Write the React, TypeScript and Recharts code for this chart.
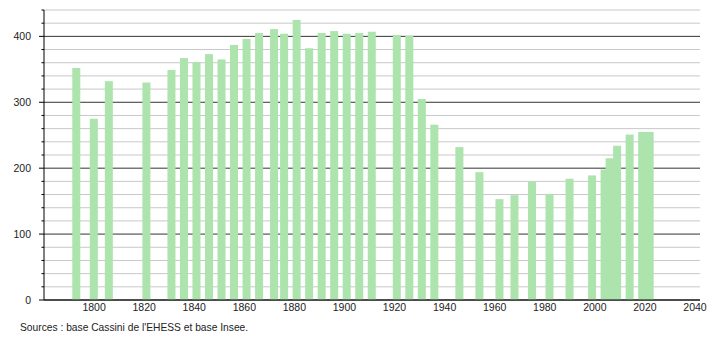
import React from 'react';
import { BarChart, Bar, XAxis, YAxis, CartesianGrid } from 'recharts';

const years = [1793, 1800, 1806, 1821, 1831, 1836, 1841, 1846, 1851, 1856, 1861, 1866, 1872, 1876, 1881, 1886, 1891, 1896, 1901, 1906, 1911, 1921, 1926, 1931, 1936, 1946, 1954, 1962, 1968, 1975, 1982, 1990, 1999, 2004, 2006, 2009, 2014, 2019, 2022];
const population = [352, 275, 332, 330, 349, 367, 361, 373, 365, 387, 396, 405, 411, 404, 425, 382, 405, 408, 404, 405, 407, 402, 401, 305, 266, 232, 194, 153, 159, 179, 161, 184, 189, 198, 215, 234, 251, 255, 255];
const xTicks = [1800, 1820, 1840, 1860, 1880, 1900, 1920, 1940, 1960, 1980, 2000, 2020, 2040];
const yTicks = [0, 20, 40, 60, 80, 100, 120, 140, 160, 180, 200, 220, 240, 260, 280, 300, 320, 340, 360, 380, 400, 420, 440];
const yLabelStep = 100;
const sourceText = "Sources : base Cassini de l'EHESS et base Insee.";

const data = years.map((year, i) => ({ year, pop: population[i] }));

const FONT = '"Liberation Sans", Arial, sans-serif';
const BAR_W = 8;
const BAR_COLOR = '#ade3ad';

const BarShape = (props: any) => {
  const { x, y, width, height, fill } = props;
  if (height == null || isNaN(height)) return null;
  const cx = x + width / 2;
  return <rect x={cx - BAR_W / 2} y={y} width={BAR_W} height={height} fill={fill} />;
};

const YTick = (props: any) => {
  const { x, y, payload } = props;
  const v = payload.value;
  const major = v % yLabelStep === 0;
  return (
    <g>
      <line x1={x - (major ? 5 : 2.5)} y1={y} x2={x} y2={y} stroke="#000" strokeWidth={1} />
      {major && (
        <text x={x - 13} y={y} dy="0.35em" textAnchor="end" fontSize={10.5} fontFamily={FONT} fill="#222">
          {v}
        </text>
      )}
    </g>
  );
};

const gridLine = (props: any) => {
  const { x1, y1, x2, y2, index, key } = props;
  const v = yTicks[index];
  const major = v % yLabelStep === 0;
  return (
    <line key={key} x1={x1} y1={y1} x2={x2} y2={y2} stroke={major ? '#333' : '#c8c8c8'} strokeWidth={1} />
  );
};

export default function App() {
  return (
    <div style={{ position: 'absolute', left: 0, top: 0, width: 710, height: 340, background: '#fff' }}>
      <BarChart
        width={710}
        height={340}
        data={data}
        margin={{ top: 10, right: 10, bottom: 20, left: 0 }}
        barSize={BAR_W}
      >
        <CartesianGrid vertical={false} horizontal={gridLine} />
        <XAxis
          dataKey="year"
          type="number"
          domain={[1780, 2042]}
          allowDataOverflow
          ticks={xTicks}
          interval={0}
          height={20}
          tickLine={false}
          tickSize={0}
          tickMargin={4}
          axisLine={{ stroke: '#000' }}
          tick={{ fontSize: 10.5, fontFamily: FONT, fill: '#222' }}
        />
        <YAxis
          type="number"
          domain={[0, 440]}
          ticks={yTicks}
          interval={0}
          width={44}
          tickLine={false}
          tickSize={0}
          tickMargin={0}
          axisLine={{ stroke: '#000' }}
          tick={<YTick />}
        />
        <Bar dataKey="pop" fill={BAR_COLOR} isAnimationActive={false} shape={<BarShape />} />
      </BarChart>
      <div
        style={{
          position: 'absolute',
          left: 20,
          top: 322,
          fontSize: 10.25,
          fontFamily: FONT,
          color: '#222',
          whiteSpace: 'nowrap',
        }}
      >
        {sourceText}
      </div>
    </div>
  );
}
